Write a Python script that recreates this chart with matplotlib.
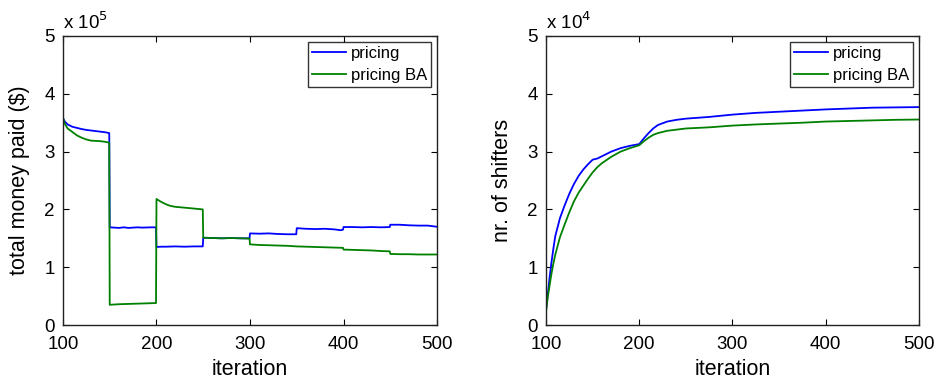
import matplotlib
matplotlib.use("Agg")
import matplotlib.pyplot as plt

plt.rcParams['font.family'] = ['Liberation Sans', 'DejaVu Sans']

# ---- total money paid ($) ----
money_iter_pricing = [100, 102, 105, 110, 115, 120, 125, 130, 135, 140, 145, 149.5,
                      150, 155, 160, 165, 170, 175, 180, 185, 190, 195, 199.5,
                      200, 205, 210, 220, 230, 240, 249.5,
                      250, 260, 270, 280, 290, 299.5,
                      300, 310, 320, 330, 340, 349.5,
                      350, 360, 370, 380, 390, 397, 399.5,
                      400, 410, 420, 430, 440, 449.5,
                      450, 460, 470, 480, 490, 500]
money_pricing = [358000, 352000, 347000, 343000, 341000, 339000, 337500, 336500, 335500, 334500, 333500, 332000,
                 169000, 168500, 168000, 169000, 168000, 168500, 169000, 168500, 168800, 169000, 169000,
                 135000, 135500, 135500, 136000, 135500, 136000, 136000,
                 151000, 150500, 150000, 150500, 150000, 150000,
                 158500, 158000, 158500, 157500, 157000, 157000,
                 167500, 166500, 166000, 166500, 165500, 164000, 165000,
                 169500, 169500, 169000, 169500, 169000, 169500,
                 173500, 173500, 172500, 172000, 172000, 170000]

money_iter_ba = [100, 102, 105, 110, 115, 120, 125, 130, 135, 140, 145, 149.5,
                 150, 155, 160, 170, 180, 190, 199.5,
                 200, 202, 205, 210, 215, 220, 230, 240, 249.5,
                 250, 260, 270, 280, 290, 299.5,
                 300, 310, 320, 330, 340, 350, 360, 370, 380, 390, 399.5,
                 400, 410, 420, 430, 440, 449.5,
                 450, 460, 470, 480, 490, 500]
money_ba = [358000, 348000, 340000, 334000, 328000, 324000, 321000, 319000, 318500, 318000, 317000, 315500,
            35000, 35500, 36000, 36500, 37000, 37500, 38000,
            218000, 216000, 213000, 209000, 206000, 204500, 203000, 201500, 200000,
            151000, 150500, 150000, 150500, 150000, 149500,
            139500, 138500, 138000, 137500, 137000, 136000, 135500, 135000, 134500, 134000, 133500,
            130500, 130000, 129500, 129000, 128000, 127500,
            123000, 122500, 122500, 122000, 122000, 122000]

# ---- number of shifters ----
shift_iter = [100, 102, 104, 106, 108, 110, 115, 120, 125, 130, 135, 140, 145, 150, 155, 160, 170, 180, 190, 200,
              205, 210, 215, 220, 230, 240, 250, 275, 300, 325, 350, 375, 400, 425, 450, 475, 500]
shift_pricing = [2600, 5400, 8400, 11000, 13300, 15400, 18500, 20700, 22700, 24400, 25800, 26900, 27800, 28600,
                 28800, 29200, 30000, 30600, 31000, 31300,
                 32300, 33200, 34000, 34600, 35200, 35500, 35700, 36000, 36400, 36700, 36900, 37100, 37300,
                 37450, 37600, 37650, 37700]
shift_ba = [2300, 4900, 7000, 9000, 10700, 12200, 15200, 17400, 19500, 21400, 22900, 24100, 25300, 26400,
            27300, 28000, 29100, 30000, 30600, 31100,
            31800, 32400, 32900, 33200, 33600, 33800, 34000, 34200, 34500, 34700, 34850, 35000, 35200,
            35300, 35400, 35500, 35550]

BLUE = (0, 0, 1)
GREEN = (0, 0.5, 0)
TICK_FS = 13.5
LABEL_FS = 15.5

fig = plt.figure(figsize=(9.37, 3.85), dpi=100)
ax1 = fig.add_axes([0.0672, 0.1558, 0.3992, 0.7507])
ax2 = fig.add_axes([0.5827, 0.1558, 0.3981, 0.7507])

ax1.plot(money_iter_pricing, [v / 1e5 for v in money_pricing], color=BLUE, lw=1.3, label='pricing')
ax1.plot(money_iter_ba, [v / 1e5 for v in money_ba], color=GREEN, lw=1.3, label='pricing BA')
ax1.set_ylabel('total money paid ($)', fontsize=LABEL_FS, labelpad=10)
ax1.text(0.0, 1.012, r'x 10$^5$', transform=ax1.transAxes, fontsize=13.5, ha='left', va='bottom')

ax2.plot(shift_iter, [v / 1e4 for v in shift_pricing], color=BLUE, lw=1.3, label='pricing')
ax2.plot(shift_iter, [v / 1e4 for v in shift_ba], color=GREEN, lw=1.3, label='pricing BA')
ax2.set_ylabel('nr. of shifters', fontsize=LABEL_FS, labelpad=10)
ax2.text(0.0, 1.012, r'x 10$^4$', transform=ax2.transAxes, fontsize=13.5, ha='left', va='bottom')

for ax in (ax1, ax2):
    ax.set_xlim(100, 500)
    ax.set_ylim(0, 5)
    ax.set_xticks([100, 200, 300, 400, 500])
    ax.set_yticks([0, 1, 2, 3, 4, 5])
    ax.tick_params(direction='in', top=True, right=True, labelsize=TICK_FS, length=4, width=0.8)
    ax.tick_params(axis='x', pad=8)
    ax.tick_params(axis='y', pad=6)
    ax.set_xlabel('iteration', fontsize=LABEL_FS, labelpad=4)
    for s in ax.spines.values():
        s.set_linewidth(1.0)
        s.set_color('#222222')
    leg = ax.legend(loc='upper right', fontsize=12, frameon=True, fancybox=False,
                    edgecolor='black', handlelength=2.0, borderaxespad=0.35,
                    handletextpad=0.3, borderpad=0.25, labelspacing=0.4)
    leg.get_frame().set_linewidth(1.0)

fig.savefig('out.png', dpi=100)
